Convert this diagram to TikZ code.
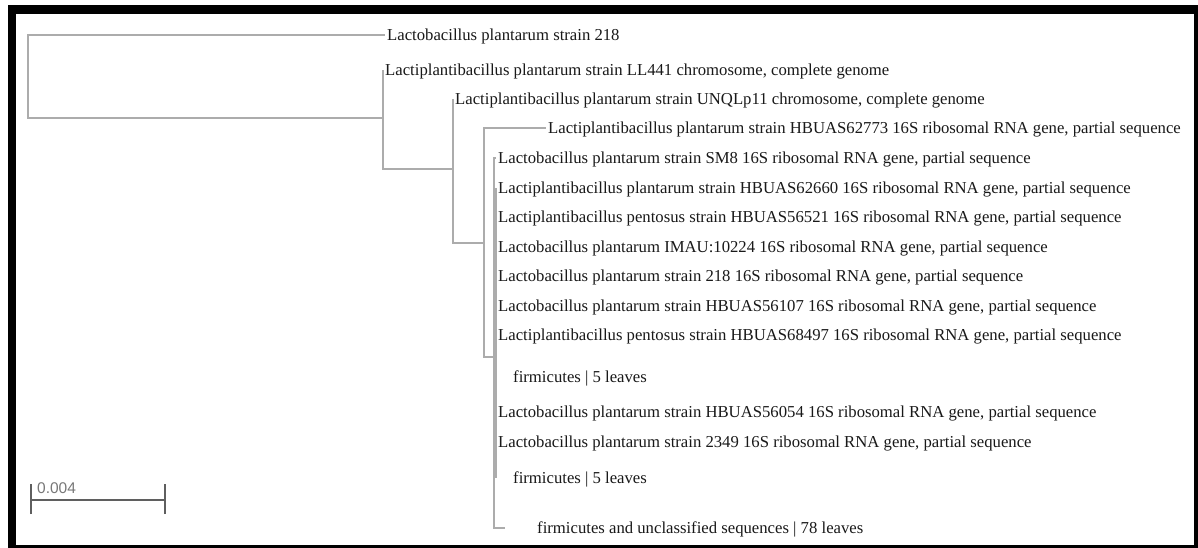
\documentclass[tikz,border=0pt]{standalone}
\usepackage{fontspec}
\setmainfont{Liberation Serif}
\newfontfamily\barfont{Liberation Sans}
\definecolor{treegray}{RGB}{172,172,172}
\definecolor{bargray}{RGB}{95,95,95}
\definecolor{leafcol}{RGB}{25,25,25}
\definecolor{labgray}{RGB}{120,120,120}
\begin{document}
\begin{tikzpicture}[x=1pt,y=-1pt,
  branch/.style={draw=treegray, line width=1.2pt},
  leaf/.style={anchor=west, inner sep=2pt, text=leafcol, text height=11.6pt, text depth=0pt,
    font=\fontsize{16.7}{19}\selectfont},
  scalebar/.style={draw=bargray, line width=2pt}]
\useasboundingbox (0,0) rectangle (1198,548);
% frame
\fill[black] (8,5) rectangle (1198,548);
\fill[white] (16,14) rectangle (1194,545);

% internal nodes
\coordinate (n0) at (28,76.5);
\coordinate (nA) at (383,118);
\coordinate (nB) at (453,169);
\coordinate (nC) at (484,243);
\coordinate (nD) at (494,357);
\coordinate (nE) at (496,332);
\coordinate (c16) at (505,528);

% leaves
\node[leaf] (l1) at (385,35) {Lactobacillus plantarum strain 218};
\node[leaf] (l2) at (383,70) {Lactiplantibacillus plantarum strain LL441 chromosome, complete genome};
\node[leaf] (l3) at (453,99) {Lactiplantibacillus plantarum strain UNQLp11 chromosome, complete genome};
\node[leaf] (l4) at (546,128) {Lactiplantibacillus plantarum strain HBUAS62773 16S ribosomal RNA gene, partial sequence};
\node[leaf] (l5) at (496,158) {Lactobacillus plantarum strain SM8 16S ribosomal RNA gene, partial sequence};
\node[leaf] (l6) at (496,188) {Lactiplantibacillus plantarum strain HBUAS62660 16S ribosomal RNA gene, partial sequence};
\node[leaf] (l7) at (496,217) {Lactiplantibacillus pentosus strain HBUAS56521 16S ribosomal RNA gene, partial sequence};
\node[leaf] (l8) at (496,247) {Lactobacillus plantarum IMAU:10224 16S ribosomal RNA gene, partial sequence};
\node[leaf] (l9) at (496,276) {Lactobacillus plantarum strain 218 16S ribosomal RNA gene, partial sequence};
\node[leaf] (l10) at (496,306) {Lactobacillus plantarum strain HBUAS56107 16S ribosomal RNA gene, partial sequence};
\node[leaf] (l11) at (496,335) {Lactiplantibacillus pentosus strain HBUAS68497 16S ribosomal RNA gene, partial sequence};
\node[leaf] (l12) at (511,377) {firmicutes | 5 leaves};
\node[leaf] (l13) at (496,412) {Lactobacillus plantarum strain HBUAS56054 16S ribosomal RNA gene, partial sequence};
\node[leaf] (l14) at (496,442) {Lactobacillus plantarum strain 2349 16S ribosomal RNA gene, partial sequence};
\node[leaf] (l15) at (511,478) {firmicutes | 5 leaves};
\node[leaf] (l16) at (535,528) {firmicutes and unclassified sequences | 78 leaves};

% branches
\draw[branch] (n0) |- (l1.west);
\draw[branch] (n0) |- (nA);
\draw[branch] (nA) |- (l2.west);
\draw[branch] (nA) |- (nB);
\draw[branch] (nB) |- (l3.west);
\draw[branch] (nB) |- (nC);
\draw[branch] (nC) |- (l4.west);
\draw[branch] (nC) |- (nD);
\draw[branch] (nD) |- (l5.west);
\draw[branch] (nD) |- (c16);
\draw[branch] (nD) |- (nE);
\foreach \l in {l6,l7,l8,l9,l10,l11,l13,l14}{\draw[branch] (nE) |- (\l.west);}
\draw[branch] (nE) -- (nE |- l12.west);
\draw[branch] (nE) -- (nE |- l15.west);

% scale bar
\coordinate (sb1) at (31,500);
\coordinate (sb2) at (165,500);
\draw[scalebar] (sb1) -- (sb2);
\draw[scalebar] ([yshift=-14pt]sb1) -- ([yshift=16pt]sb1);
\draw[scalebar] ([yshift=-14pt]sb2) -- ([yshift=16pt]sb2);
\node[anchor=south west, inner sep=0pt, text=labgray, font=\barfont\fontsize{15.5}{17}\selectfont] (sbl) at (37,494) {0.004};
\end{tikzpicture}
\end{document}
